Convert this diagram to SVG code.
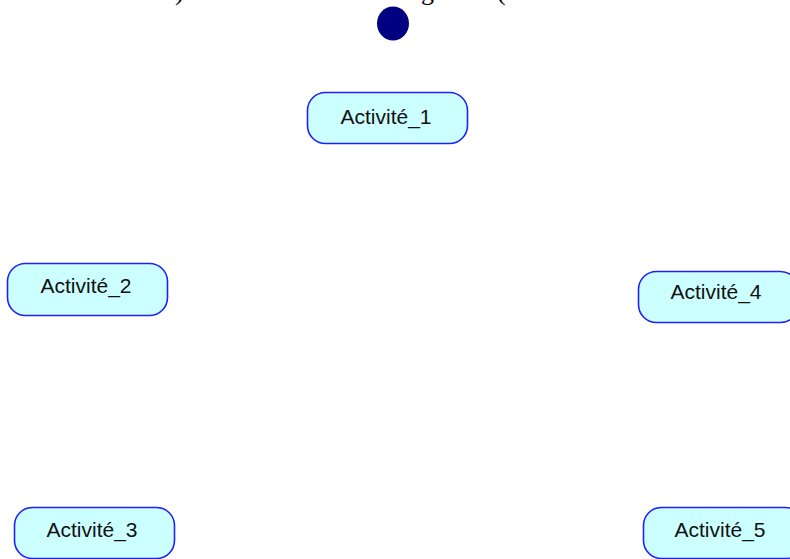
<svg xmlns="http://www.w3.org/2000/svg" width="790" height="559" viewBox="0 0 790 559">
<style>
.act{fill:#ccffff;stroke:#2020ff;stroke-width:1.6}
.lbl{font-family:"Liberation Sans",Arial,sans-serif;font-size:21px;fill:#111;text-anchor:middle}
.frag{font-family:"Liberation Serif","Times New Roman",serif;font-size:26px;fill:#000}
</style>
<rect width="790" height="559" fill="#fff"/>
<g id="caption-fragments">
<text class="frag" x="175" y="0">)</text>
<text class="frag" x="421" y="0">g</text>
<text class="frag" x="497" y="0">(</text>
</g>
<g id="connectors"></g>
<g id="start"><ellipse cx="393" cy="23.5" rx="16" ry="17" fill="#000080"/></g>
<g id="activite1"><rect class="act" x="307.5" y="92.5" width="160" height="51" rx="18"/><text class="lbl" x="386" y="124">Activité_1</text></g>
<g id="activite2"><rect class="act" x="7.5" y="263.5" width="160" height="52" rx="18"/><text class="lbl" x="86" y="293">Activité_2</text></g>
<g id="activite3"><rect class="act" x="14.5" y="507.5" width="160" height="51" rx="18"/><text class="lbl" x="92" y="537">Activité_3</text></g>
<g id="activite4"><rect class="act" x="638.5" y="271.5" width="160" height="51" rx="18"/><text class="lbl" x="716" y="299">Activité_4</text></g>
<g id="activite5"><rect class="act" x="643.5" y="507.5" width="160" height="51" rx="18"/><text class="lbl" x="720" y="537">Activité_5</text></g>
</svg>
